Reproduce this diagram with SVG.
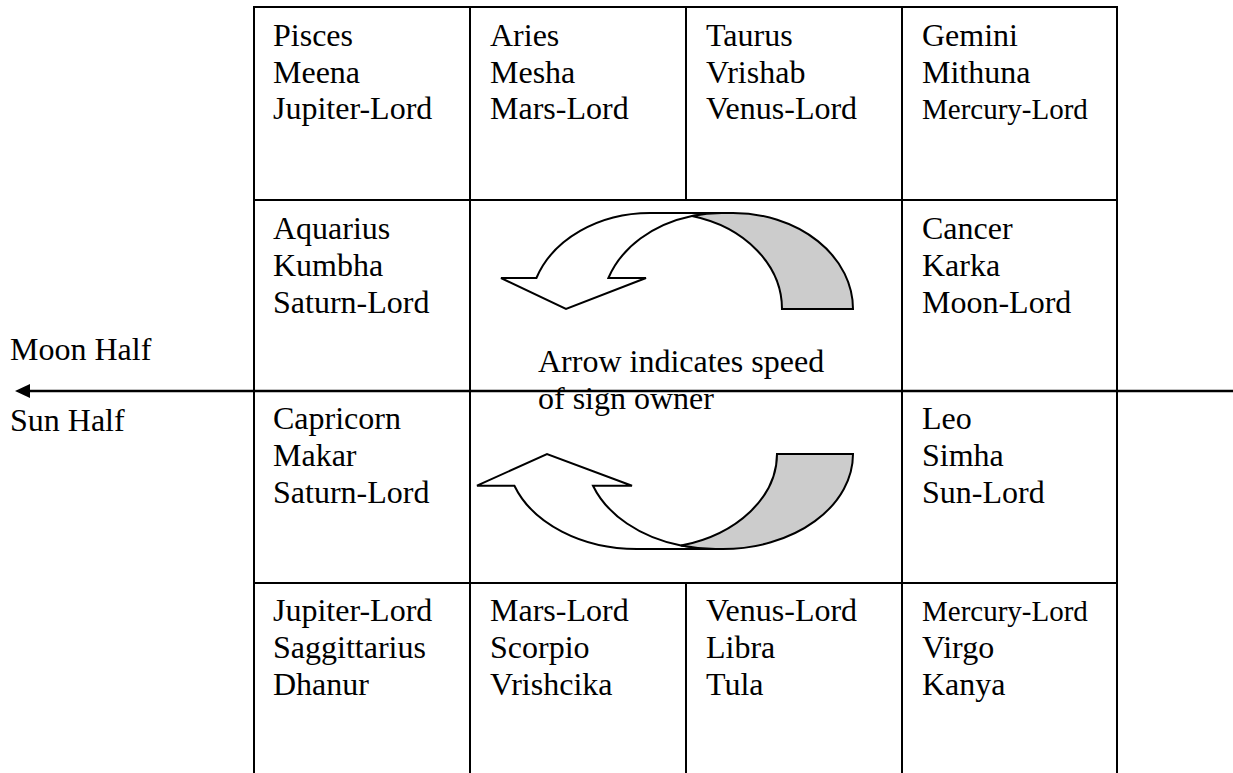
<svg xmlns="http://www.w3.org/2000/svg" width="1233" height="773" viewBox="0 0 1233 773">
<style>
.cell{fill:none;stroke:#000;stroke-width:2}
.t{font-family:"Liberation Serif","Times New Roman",serif;font-size:32px;fill:#000}
.s{font-size:29px}
.ax{stroke:#000;stroke-width:2.6;fill:none}
.w{fill:#fff;stroke:#000;stroke-width:2;stroke-linejoin:miter}
.g{fill:#ccc;stroke:#000;stroke-width:2}
</style>
<defs>
<marker id="ah" markerUnits="userSpaceOnUse" markerWidth="16" markerHeight="16" refX="0" refY="7" orient="auto">
<path d="M0,0 L15,7 L0,14 Z" fill="#000"/>
</marker>
</defs>
<rect width="1233" height="773" fill="#fff"/>
<g id="pisces"><rect class="cell" x="254" y="7" width="216" height="193"/>
<text class="t" x="273" y="46">Pisces</text><text class="t" x="273" y="83">Meena</text><text class="t" x="273" y="119">Jupiter-Lord</text></g>
<g id="aries"><rect class="cell" x="470" y="7" width="216" height="193"/>
<text class="t" x="490" y="46">Aries</text><text class="t" x="490" y="83">Mesha</text><text class="t" x="490" y="119">Mars-Lord</text></g>
<g id="taurus"><rect class="cell" x="686" y="7" width="216" height="193"/>
<text class="t" x="706" y="46">Taurus</text><text class="t" x="706" y="83">Vrishab</text><text class="t" x="706" y="119">Venus-Lord</text></g>
<g id="gemini"><rect class="cell" x="902" y="7" width="215" height="193"/>
<text class="t" x="922" y="46">Gemini</text><text class="t" x="922" y="83">Mithuna</text><text class="t s" x="922" y="119">Mercury-Lord</text></g>
<g id="aquarius"><rect class="cell" x="254" y="200" width="216" height="191"/>
<text class="t" x="273" y="239">Aquarius</text><text class="t" x="273" y="276">Kumbha</text><text class="t" x="273" y="313">Saturn-Lord</text></g>
<g id="cancer"><rect class="cell" x="902" y="200" width="215" height="191"/>
<text class="t" x="922" y="239">Cancer</text><text class="t" x="922" y="276">Karka</text><text class="t" x="922" y="313">Moon-Lord</text></g>
<g id="capricorn"><rect class="cell" x="254" y="391" width="216" height="192"/>
<text class="t" x="273" y="429">Capricorn</text><text class="t" x="273" y="466">Makar</text><text class="t" x="273" y="503">Saturn-Lord</text></g>
<g id="leo"><rect class="cell" x="902" y="391" width="215" height="192"/>
<text class="t" x="922" y="429">Leo</text><text class="t" x="922" y="466">Simha</text><text class="t" x="922" y="503">Sun-Lord</text></g>
<g id="sagittarius"><rect class="cell" x="254" y="583" width="216" height="200"/>
<text class="t" x="273" y="621">Jupiter-Lord</text><text class="t" x="273" y="658">Saggittarius</text><text class="t" x="273" y="695">Dhanur</text></g>
<g id="scorpio"><rect class="cell" x="470" y="583" width="216" height="200"/>
<text class="t" x="490" y="621">Mars-Lord</text><text class="t" x="490" y="658">Scorpio</text><text class="t" x="490" y="695">Vrishcika</text></g>
<g id="libra"><rect class="cell" x="686" y="583" width="216" height="200"/>
<text class="t" x="706" y="621">Venus-Lord</text><text class="t" x="706" y="658">Libra</text><text class="t" x="706" y="695">Tula</text></g>
<g id="virgo"><rect class="cell" x="902" y="583" width="215" height="200"/>
<text class="t s" x="922" y="621">Mercury-Lord</text><text class="t" x="922" y="658">Virgo</text><text class="t" x="922" y="695">Kanya</text></g>
<g id="labels">
<text class="t" x="10" y="360">Moon Half</text>
<text class="t" x="10" y="431">Sun Half</text>
<text class="t" x="538" y="372">Arrow indicates speed</text>
<text class="t" x="538" y="409">of sign owner</text>
</g>
<g id="connectors">
<line class="ax" x1="1233" y1="391" x2="30" y2="391" marker-end="url(#ah)"/>
<g id="top-arrow">
<path class="w" d="M650,213 A120,96 0 0 0 536.4,278 L501,278 L566,309 L646,278 L608.4,278 A120,96 0 0 1 692,216 A120,96 0 0 1 722,213 Z"/>
<path class="g" d="M722,213 L733,213 A120,96 0 0 1 853,309 L782,309 A120,96 0 0 0 692,216 A120,96 0 0 1 722,213 Z"/>
</g>
<g id="bottom-arrow">
<path class="w" d="M637,549 A130,95 0 0 1 514.4,485.7 L477,485.7 L547,454 L632,485.7 L593,485.7 A130,95 0 0 0 681,545.6 A130,95 0 0 0 715.6,549 Z"/>
<path class="g" d="M715.6,549 L723,549 A130,95 0 0 0 853,454 L777,454 A130,95 0 0 1 681,545.6 A130,95 0 0 0 715.6,549 Z"/>
</g>
</g>
</svg>
